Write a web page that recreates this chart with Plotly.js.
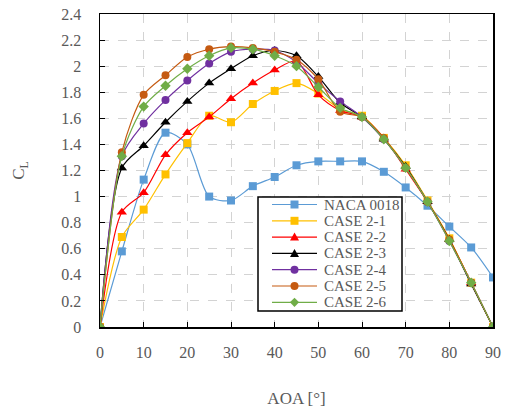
<!DOCTYPE html>
<html>
<head>
<meta charset="utf-8">
<script src="https://cdn.plot.ly/plotly-3.0.1.min.js"></script>
<style>html,body{margin:0;padding:0;background:#fff;}#chart{width:507px;height:408px;}</style>
</head>
<body>
<div id="chart"></div>
<script>
var aoa = [0, 5, 10, 15, 20, 25, 30, 35, 40, 45, 50, 55, 60, 65, 70, 75, 80, 85, 90];
var naca0018 = [0, 0.58, 1.13, 1.49, 1.40, 1.00, 0.97, 1.08, 1.15, 1.24, 1.27, 1.27, 1.27, 1.19, 1.07, 0.93, 0.77, 0.61, 0.38];
var case21 = [0, 0.69, 0.90, 1.17, 1.41, 1.62, 1.57, 1.71, 1.81, 1.87, 1.79, 1.67, 1.62, 1.45, 1.24, 0.97, 0.68, 0.34, 0];
var case22 = [0, 0.88, 1.03, 1.32, 1.49, 1.61, 1.75, 1.87, 1.97, 2.04, 1.78, 1.66, 1.61, 1.45, 1.21, 0.96, 0.67, 0.34, 0];
var case23 = [0, 1.22, 1.39, 1.57, 1.73, 1.87, 1.98, 2.08, 2.12, 2.08, 1.92, 1.72, 1.61, 1.44, 1.23, 0.96, 0.67, 0.33, 0];
var case24 = [0, 1.31, 1.56, 1.74, 1.89, 2.02, 2.11, 2.13, 2.12, 2.03, 1.87, 1.73, 1.61, 1.44, 1.22, 0.96, 0.66, 0.34, 0];
var case25 = [0, 1.34, 1.78, 1.93, 2.07, 2.13, 2.15, 2.14, 2.11, 2.05, 1.90, 1.65, 1.61, 1.45, 1.22, 0.96, 0.67, 0.34, 0];
var case26 = [0, 1.31, 1.69, 1.85, 1.98, 2.08, 2.14, 2.13, 2.08, 2.00, 1.84, 1.68, 1.61, 1.44, 1.22, 0.96, 0.66, 0.34, 0];
var names = ["NACA 0018", "CASE 2-1", "CASE 2-2", "CASE 2-3", "CASE 2-4", "CASE 2-5", "CASE 2-6"];

var series = [naca0018, case21, case22, case23, case24, case25, case26];
var colors = ["#5B9BD5", "#FFC000", "#FF0000", "#000000", "#7030A0", "#C55A11", "#70AD47"];
var symbols = ["square", "square", "triangle-up", "triangle-up", "circle", "circle", "diamond"];
var sizes = [8, 8, 9, 9, 8, 8, 8];

var traces = series.map(function (s, i) {
  return {
    x: aoa, y: s, name: names[i], type: "scatter", mode: "lines+markers",
    line: {color: colors[i], width: 1.2, shape: "spline", smoothing: 0.8},
    marker: {color: colors[i], symbol: symbols[i], size: sizes[i], line: {width: 0}}
  };
});

var FONT = "'Liberation Serif', 'DejaVu Serif', serif";
var GRAY = "#595959";

// plot area geometry (pixels) used to place the hand-drawn legend
var W = 507, H = 408, ML = 100, MR = 14, MT = 14, MB = 81;
var PW = W - ML - MR, PH = H - MT - MB;
function px(x) { return (x - ML) / PW; }
function py(y) { return (H - MB - y) / PH; }

var shapes = [];
var annotations = [];
// legend box
shapes.push({type: "rect", xref: "paper", yref: "paper", layer: "above",
  x0: px(258), x1: px(402), y0: py(311), y1: py(197),
  fillcolor: "#fff", line: {color: "#000", width: 1.5}});
var markerPaths = {
  "triangle-up": "M-4.5,-3.5L4.5,-3.5L0,4.5Z",
  "diamond": "M0,-4.6L4.6,0L0,4.6L-4.6,0Z"
};
names.forEach(function (n, i) {
  var rowY = 204.5 + i * 16.3;
  shapes.push({type: "line", xref: "paper", yref: "paper", layer: "above",
    x0: px(272), x1: px(317), y0: py(rowY), y1: py(rowY),
    line: {color: colors[i], width: 1.2}});
  var sym = symbols[i];
  var m = {xref: "paper", yref: "paper", layer: "above",
    xsizemode: "pixel", ysizemode: "pixel", xanchor: px(294.5), yanchor: py(rowY),
    fillcolor: colors[i], line: {width: 0}};
  if (sym === "square") { m.type = "rect"; m.x0 = -4; m.x1 = 4; m.y0 = -4; m.y1 = 4; }
  else if (sym === "circle") { m.type = "circle"; m.x0 = -4; m.x1 = 4; m.y0 = -4; m.y1 = 4; }
  else { m.type = "path"; m.path = markerPaths[sym]; }
  shapes.push(m);
  annotations.push({xref: "paper", yref: "paper", x: px(322), y: py(rowY),
    xanchor: "left", yanchor: "middle", showarrow: false, text: n,
    font: {family: FONT, size: 15, color: GRAY}});
});

var layout = {
  width: W, height: H,
  margin: {l: ML, r: MR, t: MT, b: MB},
  paper_bgcolor: "#fff", plot_bgcolor: "#fff",
  font: {family: FONT, size: 16, color: GRAY},
  showlegend: false,
  shapes: shapes,
  annotations: annotations,
  xaxis: {
    range: [0, 90], dtick: 10, tick0: 0,
    showgrid: true, gridcolor: "#D3D3D3", griddash: "dash", gridwidth: 1,
    showline: true, linecolor: "#000", linewidth: 1.5, mirror: true,
    ticks: "inside", ticklen: 5, tickcolor: "#000", tickwidth: 1,
    zeroline: false, ticklabelstandoff: 10,
    tickfont: {family: FONT, size: 16, color: GRAY},
    title: {text: "AOA [°]", font: {family: FONT, size: 17, color: GRAY}, standoff: 40}
  },
  yaxis: {
    range: [0, 2.4], dtick: 0.2, tick0: 0,
    showgrid: true, gridcolor: "#D3D3D3", griddash: "dash", gridwidth: 1,
    showline: true, linecolor: "#000", linewidth: 1.5, mirror: true,
    ticks: "inside", ticklen: 5, tickcolor: "#000", tickwidth: 1,
    zeroline: false, ticklabelstandoff: 14,
    tickfont: {family: FONT, size: 16, color: GRAY},
    title: {text: "C<sub>L</sub>", font: {family: FONT, size: 17, color: GRAY}, standoff: 32}
  }
};

Plotly.newPlot("chart", traces, layout, {displayModeBar: false, staticPlot: true});
</script>
</body>
</html>
